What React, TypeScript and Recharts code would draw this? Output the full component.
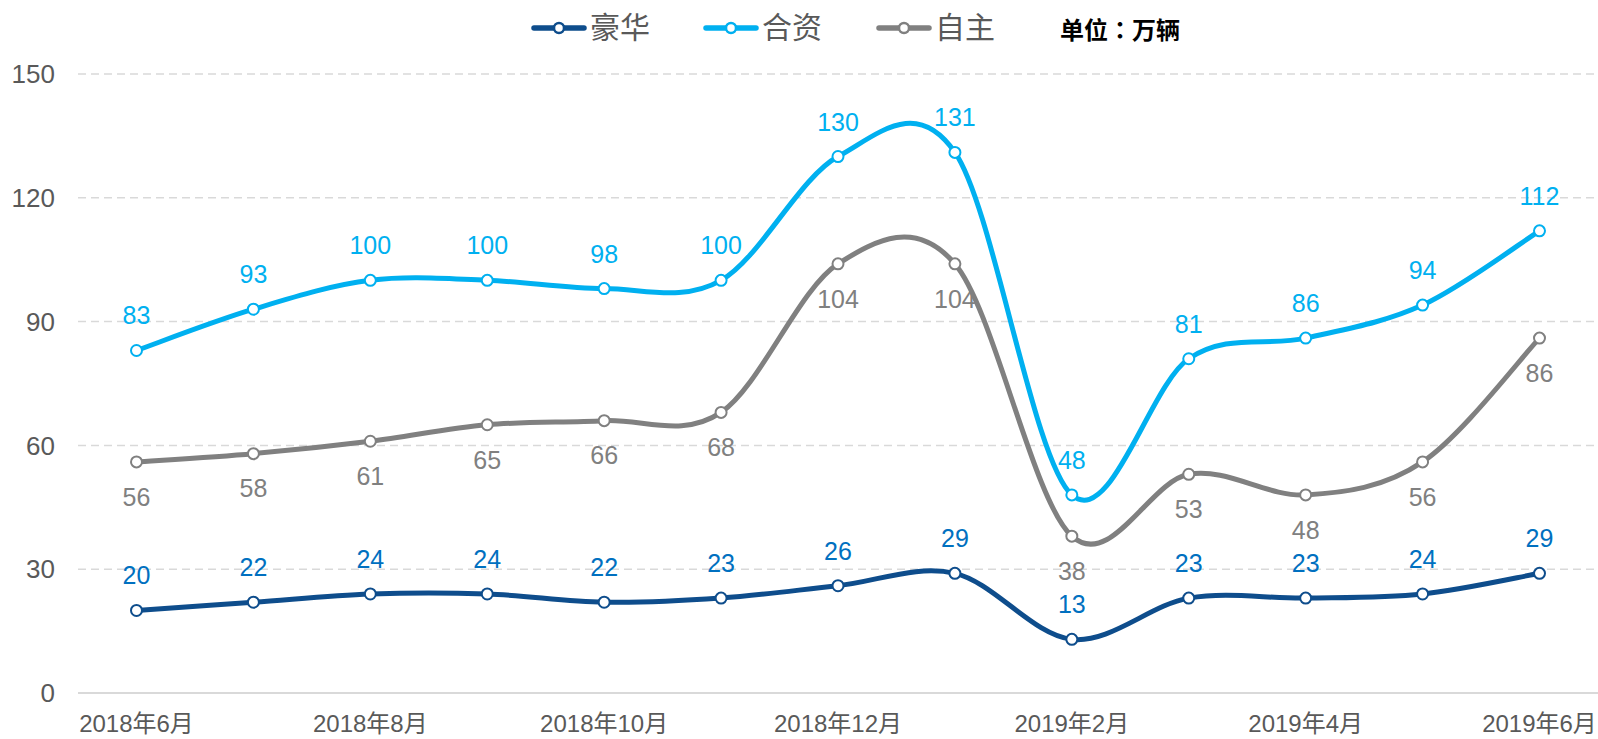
import React from 'react';
import { LineChart, Line, XAxis, YAxis, CartesianGrid, LabelList } from 'recharts';

const months = [
  '2018年6月', '2018年7月', '2018年8月', '2018年9月', '2018年10月', '2018年11月', '2018年12月',
  '2019年1月', '2019年2月', '2019年3月', '2019年4月', '2019年5月', '2019年6月',
];
const luxury = [20, 22, 24, 24, 22, 23, 26, 29, 13, 23, 23, 24, 29];
const joint = [83, 93, 100, 100, 98, 100, 130, 131, 48, 81, 86, 94, 112];
const domestic = [56, 58, 61, 65, 66, 68, 104, 104, 38, 53, 48, 56, 86];
const yTicks = [0, 30, 60, 90, 120, 150];

const FONT = '"Liberation Sans", Arial, "Noto Sans CJK SC", sans-serif';

const data = months.map((m, i) => ({
  month: m,
  luxury: luxury[i],
  joint: joint[i],
  domestic: domestic[i],
}));

// excel-style smoothing: bezier with catmull-rom tangents
function excelCurve(context: any) {
  let pts: number[][] = [];
  return {
    areaStart() {},
    areaEnd() {},
    lineStart() { pts = []; },
    lineEnd() {
      if (!pts.length) return;
      context.moveTo(pts[0][0], pts[0][1]);
      for (let i = 0; i < pts.length - 1; i++) {
        const p0 = pts[i - 1] || pts[i];
        const p1 = pts[i];
        const p2 = pts[i + 1];
        const p3 = pts[i + 2] || p2;
        context.bezierCurveTo(
          p1[0] + (p2[0] - p0[0]) / 6, p1[1] + (p2[1] - p0[1]) / 6,
          p2[0] - (p3[0] - p1[0]) / 6, p2[1] - (p3[1] - p1[1]) / 6,
          p2[0], p2[1],
        );
      }
    },
    point(x: number, y: number) { pts.push([+x, +y]); },
  };
}

const series = [
  { key: 'luxury', name: '豪华', color: '#0E4D8C', labelColor: '#0070C0', pos: 'top', offset: 26 },
  { key: 'joint', name: '合资', color: '#00B0F0', labelColor: '#00B0F0', pos: 'top', offset: 26 },
  { key: 'domestic', name: '自主', color: '#808080', labelColor: '#808080', pos: 'bottom', offset: 26 },
];
const legendLeft = [531, 703, 876];

function LegendBar() {
  return (
    <div style={{ position: 'absolute', left: 0, top: 8, width: 1598, height: 40, fontFamily: FONT }}>
      {series.map((s, i) => (
        <div key={s.key} style={{ position: 'absolute', left: legendLeft[i], top: 0, display: 'flex', alignItems: 'center', height: 40 }}>
          <svg width={56} height={14}>
            <line x1={3} y1={7} x2={53} y2={7} stroke={s.color} strokeWidth={5.5} strokeLinecap="round" />
            <circle cx={28} cy={7} r={5} fill="#fff" stroke={s.color} strokeWidth={2.5} />
          </svg>
          <span style={{ fontSize: 30, color: '#595959', marginLeft: 3, lineHeight: '40px' }}>{s.name}</span>
        </div>
      ))}
      <div style={{ position: 'absolute', left: 1060, top: 0, height: 40, display: 'flex', alignItems: 'center', fontSize: 24, fontWeight: 'bold', color: '#000', fontFamily: '"Noto Sans CJK TC", "Noto Sans CJK SC", sans-serif' }}>
        单位：万辆
      </div>
    </div>
  );
}

export default function App() {
  return (
    <div style={{ position: 'absolute', left: 0, top: 0, width: 1598, height: 739, background: '#fff', overflow: 'hidden' }}>
      <LineChart width={1598} height={739} data={data} margin={{ top: 74, right: 0, left: 0, bottom: 0 }}>
        <CartesianGrid vertical={false} stroke="#D9D9D9" strokeWidth={1.5} strokeDasharray="8 5" />
        <XAxis
          dataKey="month"
          interval={1}
          height={46}
          padding={{ left: 58.5, right: 58.5 }}
          tickLine={false}
          axisLine={{ stroke: '#D9D9D9', strokeWidth: 2 }}
          tickSize={0}
          tickMargin={22}
          tick={{ fill: '#595959', fontSize: 24, fontFamily: FONT }}
        />
        <YAxis
          domain={[0, 150]}
          ticks={yTicks}
          width={78}
          tickLine={false}
          axisLine={false}
          tickSize={0}
          tickMargin={23}
          tick={{ fill: '#595959', fontSize: 26, fontFamily: FONT }}
        />
        {series.map((s) => (
          <Line
            key={s.key}
            type={excelCurve as any}
            dataKey={s.key}
            name={s.name}
            stroke={s.color}
            strokeWidth={5}
            dot={{ r: 5.5, fill: '#fff', stroke: s.color, strokeWidth: 2 }}
            activeDot={false}
            isAnimationActive={false}
          >
            <LabelList
              dataKey={s.key}
              position={s.pos as any}
              offset={s.offset}
              fill={s.labelColor}
              fontSize={25}
              fontFamily={FONT}
              formatter={(v: any) => Math.round(v)}
            />
          </Line>
        ))}
      </LineChart>
      <LegendBar />
    </div>
  );
}
